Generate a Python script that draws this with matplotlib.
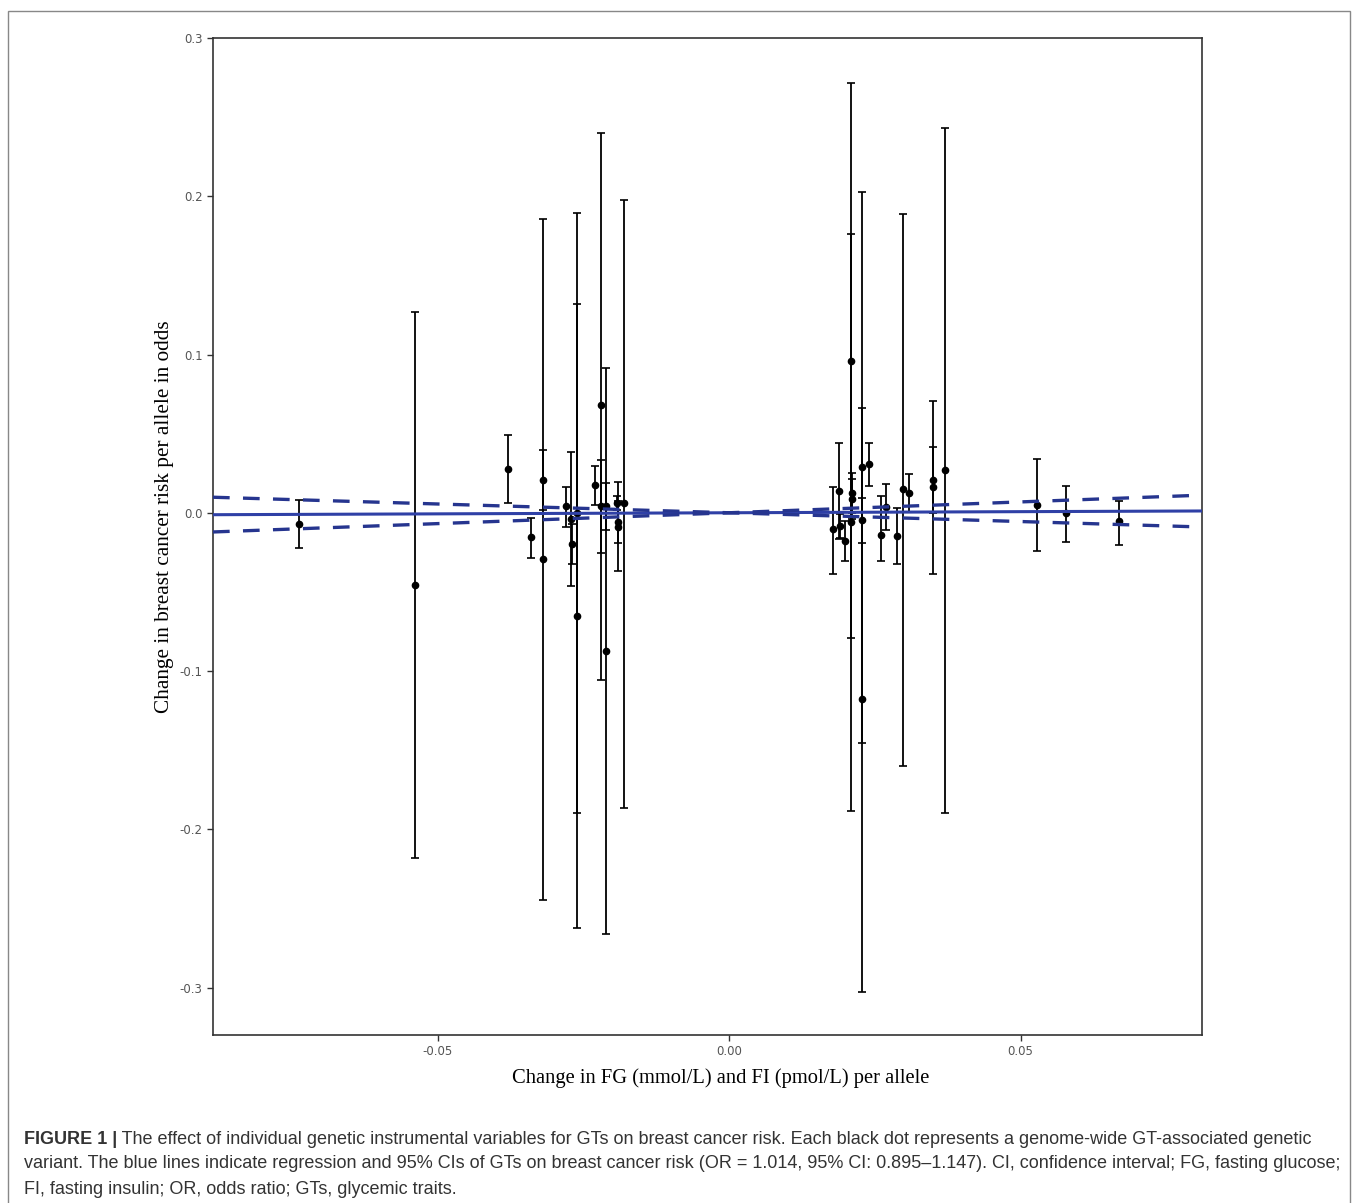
import numpy as np
import matplotlib.pyplot as plt
from matplotlib.patches import Rectangle

# per-allele effect on glycemic trait (x) and on breast cancer log-odds (y)
beta_gt = [-0.0738, -0.0539, -0.0379, -0.0340, -0.0319, -0.0319, -0.0280,
           -0.0271, -0.0269, -0.0261, -0.0261, -0.0230, -0.0220, -0.0220,
           -0.0211, -0.0211, -0.0190, -0.0190, -0.0192, -0.0180,
           0.0178, 0.0189, 0.0190, 0.0199, 0.0209, 0.0209, 0.0211, 0.0211,
           0.0228, 0.0228, 0.0228, 0.0240, 0.0261, 0.0269, 0.0288, 0.0298,
           0.0309, 0.0350, 0.0350, 0.0370, 0.0528, 0.0578, 0.0669]
beta_bc = [-0.0070, -0.0455, 0.0278, -0.0152, 0.0209, -0.0291, 0.0044,
           -0.0038, -0.0196, -0.0651, 0.0000, 0.0177, 0.0683, 0.0044,
           -0.0872, 0.0044, -0.0088, -0.0057, 0.0063, 0.0063,
           -0.0101, 0.0139, -0.0082, -0.0177, 0.0961, -0.0057, 0.0126, 0.0088,
           -0.1176, 0.0291, -0.0044, 0.0310, -0.0139, 0.0038, -0.0145, 0.0152,
           0.0126, 0.0209, 0.0164, 0.0272, 0.0051, 0.0000, -0.0051]
ci_high = [0.0082, 0.1271, 0.0493, -0.0032, 0.0398, 0.1858, 0.0164,
           0.0386, -0.0070, 0.1321, 0.1896, 0.0297, 0.2402, 0.0335,
           0.0917, 0.0190, 0.0196, 0.0076, 0.0107, 0.1979,
           0.0164, 0.0442, -0.0006, -0.0051, 0.2718, 0.1764, 0.0253, 0.0215,
           0.0664, 0.2029, 0.0095, 0.0442, 0.0107, 0.0183, 0.0032, 0.1890,
           0.0247, 0.0417, 0.0708, 0.2434, 0.0341, 0.0171, 0.0076]
ci_low = [-0.0221, -0.2181, 0.0063, -0.0284, 0.0019, -0.2446, -0.0088,
          -0.0461, -0.0322, -0.2623, -0.1896, 0.0051, -0.1056, -0.0253,
          -0.2661, -0.0107, -0.0367, -0.0190, 0.0019, -0.1865,
          -0.0386, -0.0164, -0.0158, -0.0303, -0.0790, -0.1884, 0.0000, -0.0038,
          -0.3028, -0.1454, -0.0190, 0.0171, -0.0303, -0.0107, -0.0322, -0.1599,
          0.0006, 0.0000, -0.0386, -0.1896, -0.0240, -0.0183, -0.0202]

# IVW estimate and 95% CI (odds ratios)
or_est, or_lo, or_hi = 1.014, 0.895, 1.147

x_ticks = [-0.05, 0.0, 0.05]
x_ticklabels = ['-0.05', '0.00', '0.05']
y_ticks = [0.3, 0.2, 0.1, 0.0, -0.1, -0.2, -0.3]
y_ticklabels = ['0.3', '0.2', '0.1', '0.0', '-0.1', '-0.2', '-0.3']

W, H = 1358, 1203
fig = plt.figure(figsize=(W / 100, H / 100), dpi=100)
ax = fig.add_axes([213 / W, 1 - 1035 / H, 989 / W, 997 / H])

xlim = (-0.0885, 0.0811)
xs = np.array(xlim)

y = np.array(beta_bc)
yerr = [y - np.array(ci_low), np.array(ci_high) - y]
ax.errorbar(beta_gt, beta_bc, yerr=yerr, fmt='o', color='black', ms=4.5,
            elinewidth=1.3, capsize=3, capthick=1.2, zorder=2)

ax.plot(xs, np.log(or_est) * xs, color='#2f40a6', lw=2.2, zorder=3)
for o in (or_lo, or_hi):
    ax.plot(xs, np.log(o) * xs, color='#26358f', lw=2.4,
            dashes=(5, 4), zorder=3)

ax.set_xlim(*xlim)
ax.set_ylim(-0.330, 0.300)
ax.set_xticks(x_ticks)
ax.set_xticklabels(x_ticklabels)
ax.set_yticks(y_ticks)
ax.set_yticklabels(y_ticklabels)
ax.tick_params(labelsize=8.5, labelcolor='#555555', color='#333333',
               length=4, width=1)
for s in ax.spines.values():
    s.set_linewidth(1.2)
    s.set_color('#333333')

serif = ['Liberation Serif', 'DejaVu Serif']
ax.set_xlabel('Change in FG (mmol/L) and FI (pmol/L) per allele',
              family=serif, fontsize=14.8)
ax.set_ylabel('Change in breast cancer risk per allele in odds',
              family=serif, fontsize=15.3)
ax.xaxis.set_label_coords((721 - 213) / 989, -(1068 - 1035) / 997)
ax.yaxis.set_label_coords((174 - 213) / 989, (1035 - 517) / 997)

# outer frame of the figure panel
fig.patches.append(Rectangle((8 / W, -0.01), (1350 - 8) / W, 1 - 11 / H + 0.01,
                             transform=fig.transFigure, fill=False,
                             edgecolor='#888888', lw=1))

cap_font = ['Liberation Sans', 'DejaVu Sans']
cap_color = '#333333'
cap_size = 12.95
lines = [
    ' The effect of individual genetic instrumental variables for GTs on '
    'breast cancer risk. Each black dot represents a genome-wide '
    'GT-associated genetic',
    'variant. The blue lines indicate regression and 95% CIs of GTs on '
    'breast cancer risk (OR = 1.014, 95% CI: 0.895\u20131.147). CI, '
    'confidence interval; FG, fasting glucose;',
    'FI, fasting insulin; OR, odds ratio; GTs, glycemic traits.',
]
ys = [1139, 1164, 1189]
bold = fig.text(24 / W, 1 - ys[0] / H, 'FIGURE 1 |', family=cap_font,
                fontsize=cap_size, weight='bold', color=cap_color, va='center')
fig.canvas.draw()
bb = bold.get_window_extent()
fig.text(bb.x1 / W, 1 - ys[0] / H, lines[0], family=cap_font,
         fontsize=cap_size, color=cap_color, va='center')
for t, yy in zip(lines[1:], ys[1:]):
    fig.text(24 / W, 1 - yy / H, t, family=cap_font, fontsize=cap_size,
             color=cap_color, va='center')

fig.savefig('out.png', dpi=100)
